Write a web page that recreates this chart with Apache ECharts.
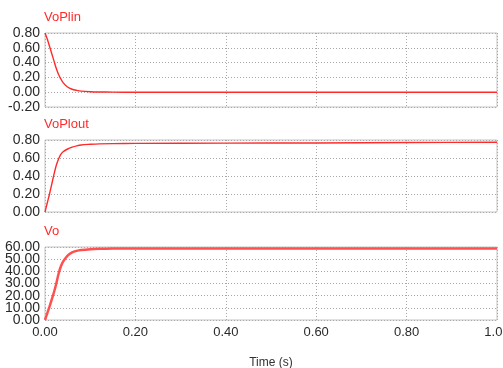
<!DOCTYPE html>
<html>
<head>
<meta charset="utf-8">
<script src="https://cdn.jsdelivr.net/npm/echarts@6/dist/echarts.min.js"></script>
<style>
  html, body { margin: 0; padding: 0; background: #fff; }
  #chart { width: 503px; height: 368px; }
</style>
</head>
<body>
<div id="chart"></div>
<script>
// Simulation time samples (s)
const time = [0, 0.005, 0.01, 0.015, 0.02, 0.025, 0.03, 0.035, 0.04, 0.05, 0.06, 0.07, 0.08, 0.1, 0.12, 0.15, 0.2, 0.4, 0.6, 0.8, 1.0];

// Panel signals
const voPlin  = [0.80, 0.72, 0.62, 0.52, 0.42, 0.32, 0.24, 0.18, 0.13, 0.07, 0.04, 0.025, 0.015, 0.007, 0.003, 0.001, 0, 0, 0, 0, 0];
const voPlout = [0, 0.10, 0.20, 0.31, 0.42, 0.52, 0.59, 0.64, 0.67, 0.70, 0.72, 0.735, 0.745, 0.752, 0.757, 0.760, 0.762, 0.765, 0.767, 0.772, 0.775];
const vo      = [0, 5.5, 11, 17, 23, 30, 38, 44, 48, 53, 55.5, 56.8, 57.5, 58.2, 58.5, 58.7, 58.8, 58.8, 58.8, 58.8, 58.8];

const panelNames = ['VoPlin', 'VoPlout', 'Vo'];
const xTicks = [0, 0.2, 0.4, 0.6, 0.8, 1.0];
// Vo tick labels, split into two interleaved sets so the tightly packed labels all stay visible
const voTicksEven = [0, 20, 40, 60];
const voTicksOdd  = [10, 30, 50];

const FONT = '"Liberation Sans", Arial, sans-serif';
const RED = '#ff2a2a';

const grids = [
  { left: 45, top: 33, width: 452, height: 74 },
  { left: 45, top: 140, width: 452, height: 72 },
  { left: 45, top: 247, width: 452, height: 73 }
].map(g => Object.assign(g, {
  show: true, borderColor: '#c4c4c4', borderWidth: 1, backgroundColor: 'transparent',
  containLabel: false, outerBoundsMode: 'none'
}));

const dotted = { show: true, lineStyle: { color: '#a8a8a8', type: [1, 2], width: 1 } };

const xAxes = [0, 1, 2].map(i => ({
  type: 'value',
  gridIndex: i,
  min: xTicks[0],
  max: xTicks[xTicks.length - 1],
  interval: 0.2,
  axisLine: { show: false },
  axisTick: { show: false },
  splitLine: dotted,
  axisLabel: {
    show: i === 2,
    showMinLabel: true,
    showMaxLabel: true,
    hideOverlap: false,
    margin: 6,
    color: '#2a2a2a',
    fontSize: 13,
    fontFamily: FONT,
    formatter: v => v.toFixed(2)
  },
  name: i === 2 ? 'Time (s)' : '',
  nameLocation: 'middle',
  nameGap: 37,
  nameTextStyle: { color: '#333', fontSize: 12, fontFamily: FONT }
}));

const yRanges = [
  { min: -0.2, max: 0.8, interval: 0.2 },
  { min: 0, max: 0.8, interval: 0.2 },
  { min: 0, max: 60, interval: 10 }
];

const fmt = v => (Math.abs(v) < 1e-9 ? 0 : v).toFixed(2);
const yLabelBase = {
  showMinLabel: true,
  showMaxLabel: true,
  hideOverlap: false,
  margin: 5,
  color: '#2a2a2a',
  fontSize: 14,
  fontFamily: FONT,
  formatter: fmt
};

const yAxes = yRanges.map((r, i) => ({
  type: 'value',
  gridIndex: i,
  min: r.min,
  max: r.max,
  interval: r.interval,
  axisLine: { show: false },
  axisTick: { show: false },
  splitLine: dotted,
  axisLabel: i === 2
    ? Object.assign({}, yLabelBase, { customValues: voTicksEven })
    : Object.assign({}, yLabelBase)
}));

// Second Vo axis on the same grid carrying the odd tick labels
yAxes.push({
  type: 'value',
  gridIndex: 2,
  position: 'left',
  offset: 0,
  min: yRanges[2].min,
  max: yRanges[2].max,
  interval: yRanges[2].interval,
  axisLine: { show: false },
  axisTick: { show: false },
  splitLine: { show: false },
  axisLabel: Object.assign({}, yLabelBase, { customValues: voTicksOdd })
});

const signals = [voPlin, voPlout, vo];
const series = signals.map((vals, i) => ({
  type: 'line',
  xAxisIndex: i,
  yAxisIndex: i,
  data: time.map((t, k) => [t, vals[k]]),
  showSymbol: false,
  smooth: 0.3,
  lineStyle: { color: i === 2 ? '#ff5050' : RED, width: i === 2 ? 2.5 : 1.4 },
  z: 3
}));

const titles = panelNames.map((n, i) => ({
  text: n,
  left: 44,
  top: [11, 118, 225][i],
  textStyle: { color: RED, fontSize: 13, fontWeight: 'normal', fontFamily: FONT },
  padding: 0
}));

const chart = echarts.init(document.getElementById('chart'), null, { renderer: 'canvas' });
chart.setOption({
  animation: false,
  backgroundColor: '#fff',
  title: titles,
  grid: grids,
  xAxis: xAxes,
  yAxis: yAxes,
  series: series
});
</script>
</body>
</html>
